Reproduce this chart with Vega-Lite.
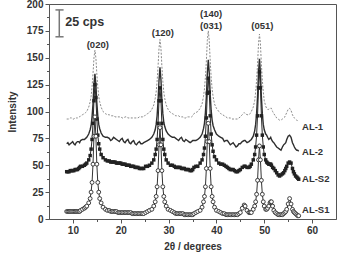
{
  "$schema": "https://vega.github.io/schema/vega-lite/v6.json",
  "width": 287,
  "height": 215,
  "autosize": {"type": "none"},
  "padding": {"left": 49, "top": 4, "right": 1, "bottom": 34},
  "config": {
    "view": {"stroke": "#555", "strokeWidth": 1},
    "font": "Liberation Sans",
    "axis": {
      "grid": false,
      "domainColor": "#555",
      "tickColor": "#555",
      "labelFont": "Liberation Sans",
      "labelFontWeight": "bold",
      "labelFontSize": 10,
      "labelColor": "#333",
      "titleFont": "Liberation Sans",
      "titleFontWeight": "bold",
      "titleFontSize": 10,
      "titleColor": "#333"
    }
  },
  "encoding": {
    "x": {
      "field": "x",
      "type": "quantitative",
      "scale": {"domain": [5, 65], "nice": false},
      "axis": {
        "title": "2θ / degrees",
        "values": [10, 15, 20, 25, 30, 35, 40, 45, 50, 55, 60],
        "labelExpr": "datum.value % 10 === 0 ? datum.label : ''",
        "tickSize": {"condition": {"test": "datum.value % 10 === 0", "value": 4}, "value": 2.5},
        "labelPadding": 2,
        "titlePadding": 6
      }
    },
    "y": {
      "field": "y",
      "type": "quantitative",
      "scale": {"domain": [0, 200], "nice": false},
      "axis": {
        "title": "Intensity",
        "values": [0, 12.5, 25, 37.5, 50, 62.5, 75, 87.5, 100, 112.5, 125, 137.5, 150, 162.5, 175, 187.5, 200],
        "labelExpr": "datum.value % 25 === 0 ? datum.label : ''",
        "tickSize": {"condition": {"test": "datum.value % 25 === 0", "value": 4}, "value": 2.5},
        "labelPadding": 2,
        "titlePadding": 9
      }
    }
  },
  "layer": [
    {
      "data": {
        "values": [
          {"x": 8.7, "AL-1": 93, "AL-2": 70, "AL-S2": 44, "AL-S1": 7},
          {"x": 8.95, "AL-1": 93, "AL-2": 71, "AL-S2": 44, "AL-S1": 7},
          {"x": 9.2, "AL-1": 93, "AL-2": 69, "AL-S2": 44, "AL-S1": 7},
          {"x": 9.45, "AL-1": 94, "AL-2": 70, "AL-S2": 45, "AL-S1": 7},
          {"x": 9.7, "AL-1": 94, "AL-2": 71, "AL-S2": 45, "AL-S1": 7},
          {"x": 9.95, "AL-1": 93, "AL-2": 72, "AL-S2": 45, "AL-S1": 7},
          {"x": 10.2, "AL-1": 93, "AL-2": 70, "AL-S2": 45, "AL-S1": 7},
          {"x": 10.45, "AL-1": 94, "AL-2": 69, "AL-S2": 46, "AL-S1": 7},
          {"x": 10.7, "AL-1": 94, "AL-2": 71, "AL-S2": 46, "AL-S1": 7},
          {"x": 10.95, "AL-1": 94, "AL-2": 72, "AL-S2": 46, "AL-S1": 7},
          {"x": 11.2, "AL-1": 95, "AL-2": 72, "AL-S2": 47, "AL-S1": 7},
          {"x": 11.4, "AL-1": 95, "AL-2": 71, "AL-S2": 48, "AL-S1": 7},
          {"x": 11.6, "AL-1": 96, "AL-2": 73, "AL-S2": 49, "AL-S1": 8},
          {"x": 12.0, "AL-1": 97, "AL-2": 74, "AL-S2": 49, "AL-S1": 9},
          {"x": 12.4, "AL-1": 98, "AL-2": 74, "AL-S2": 50, "AL-S1": 10},
          {"x": 12.65, "AL-1": 99, "AL-2": 75, "AL-S2": 51, "AL-S1": 11},
          {"x": 12.9, "AL-1": 100, "AL-2": 76, "AL-S2": 52, "AL-S1": 12},
          {"x": 13.3, "AL-1": 104, "AL-2": 79, "AL-S2": 55, "AL-S1": 15},
          {"x": 13.6, "AL-1": 109, "AL-2": 83, "AL-S2": 59, "AL-S1": 19},
          {"x": 13.8, "AL-1": 114, "AL-2": 87, "AL-S2": 65, "AL-S1": 25},
          {"x": 14.0, "AL-1": 123, "AL-2": 95, "AL-S2": 74, "AL-S1": 34},
          {"x": 14.2, "AL-1": 135, "AL-2": 107, "AL-S2": 89, "AL-S1": 51},
          {"x": 14.4, "AL-1": 150, "AL-2": 125, "AL-S2": 110, "AL-S1": 77},
          {"x": 14.6, "AL-1": 157, "AL-2": 135, "AL-S2": 125, "AL-S1": 95},
          {"x": 14.8, "AL-1": 150, "AL-2": 125, "AL-S2": 113, "AL-S1": 77},
          {"x": 15.0, "AL-1": 135, "AL-2": 108, "AL-S2": 93, "AL-S1": 51},
          {"x": 15.2, "AL-1": 123, "AL-2": 96, "AL-S2": 78, "AL-S1": 34},
          {"x": 15.4, "AL-1": 114, "AL-2": 88, "AL-S2": 70, "AL-S1": 25},
          {"x": 15.6, "AL-1": 109, "AL-2": 84, "AL-S2": 65, "AL-S1": 19},
          {"x": 15.9, "AL-1": 104, "AL-2": 80, "AL-S2": 60, "AL-S1": 15},
          {"x": 16.3, "AL-1": 100, "AL-2": 77, "AL-S2": 57, "AL-S1": 11},
          {"x": 16.8, "AL-1": 98, "AL-2": 76, "AL-S2": 55, "AL-S1": 9},
          {"x": 17.2, "AL-1": 97, "AL-2": 76, "AL-S2": 54, "AL-S1": 8},
          {"x": 17.6, "AL-1": 97, "AL-2": 75, "AL-S2": 54, "AL-S1": 8},
          {"x": 17.9, "AL-1": 96, "AL-2": 73, "AL-S2": 53, "AL-S1": 7},
          {"x": 18.2, "AL-1": 96, "AL-2": 74, "AL-S2": 53, "AL-S1": 7},
          {"x": 18.5, "AL-1": 96, "AL-2": 76, "AL-S2": 53, "AL-S1": 7},
          {"x": 18.8, "AL-1": 95, "AL-2": 75, "AL-S2": 53, "AL-S1": 7},
          {"x": 19.1, "AL-1": 95, "AL-2": 74, "AL-S2": 52, "AL-S1": 7},
          {"x": 19.4, "AL-1": 95, "AL-2": 73, "AL-S2": 52, "AL-S1": 6},
          {"x": 19.7, "AL-1": 95, "AL-2": 72, "AL-S2": 52, "AL-S1": 6},
          {"x": 20.0, "AL-1": 95, "AL-2": 74, "AL-S2": 52, "AL-S1": 6},
          {"x": 20.3, "AL-1": 94, "AL-2": 75, "AL-S2": 51, "AL-S1": 6},
          {"x": 20.6, "AL-1": 94, "AL-2": 72, "AL-S2": 51, "AL-S1": 6},
          {"x": 20.9, "AL-1": 95, "AL-2": 71, "AL-S2": 51, "AL-S1": 6},
          {"x": 21.2, "AL-1": 95, "AL-2": 73, "AL-S2": 50, "AL-S1": 6},
          {"x": 21.5, "AL-1": 94, "AL-2": 74, "AL-S2": 50, "AL-S1": 6},
          {"x": 21.8, "AL-1": 94, "AL-2": 71, "AL-S2": 50, "AL-S1": 6},
          {"x": 22.1, "AL-1": 94, "AL-2": 70, "AL-S2": 49, "AL-S1": 6},
          {"x": 22.4, "AL-1": 94, "AL-2": 72, "AL-S2": 49, "AL-S1": 5},
          {"x": 22.7, "AL-1": 94, "AL-2": 73, "AL-S2": 49, "AL-S1": 5},
          {"x": 23.0, "AL-1": 94, "AL-2": 70, "AL-S2": 48, "AL-S1": 5},
          {"x": 23.3, "AL-1": 94, "AL-2": 69, "AL-S2": 48, "AL-S1": 5},
          {"x": 23.6, "AL-1": 94, "AL-2": 71, "AL-S2": 48, "AL-S1": 5},
          {"x": 23.9, "AL-1": 95, "AL-2": 72, "AL-S2": 47, "AL-S1": 5},
          {"x": 24.2, "AL-1": 95, "AL-2": 70, "AL-S2": 47, "AL-S1": 5},
          {"x": 24.5, "AL-1": 95, "AL-2": 70, "AL-S2": 47, "AL-S1": 5},
          {"x": 24.8, "AL-1": 95, "AL-2": 71, "AL-S2": 47, "AL-S1": 5},
          {"x": 25.2, "AL-1": 97, "AL-2": 72, "AL-S2": 49, "AL-S1": 6},
          {"x": 25.6, "AL-1": 98, "AL-2": 73, "AL-S2": 49, "AL-S1": 7},
          {"x": 26.0, "AL-1": 99, "AL-2": 74, "AL-S2": 50, "AL-S1": 8},
          {"x": 26.5, "AL-1": 102, "AL-2": 76, "AL-S2": 52, "AL-S1": 9},
          {"x": 26.9, "AL-1": 106, "AL-2": 79, "AL-S2": 55, "AL-S1": 12},
          {"x": 27.2, "AL-1": 112, "AL-2": 83, "AL-S2": 60, "AL-S1": 16},
          {"x": 27.4, "AL-1": 118, "AL-2": 88, "AL-S2": 65, "AL-S1": 21},
          {"x": 27.6, "AL-1": 128, "AL-2": 96, "AL-S2": 74, "AL-S1": 30},
          {"x": 27.8, "AL-1": 142, "AL-2": 110, "AL-S2": 89, "AL-S1": 45},
          {"x": 28.0, "AL-1": 159, "AL-2": 129, "AL-S2": 110, "AL-S1": 69},
          {"x": 28.2, "AL-1": 167, "AL-2": 141, "AL-S2": 122, "AL-S1": 85},
          {"x": 28.4, "AL-1": 159, "AL-2": 130, "AL-S2": 110, "AL-S1": 69},
          {"x": 28.6, "AL-1": 142, "AL-2": 111, "AL-S2": 89, "AL-S1": 45},
          {"x": 28.8, "AL-1": 128, "AL-2": 98, "AL-S2": 74, "AL-S1": 30},
          {"x": 29.0, "AL-1": 118, "AL-2": 90, "AL-S2": 65, "AL-S1": 21},
          {"x": 29.2, "AL-1": 112, "AL-2": 86, "AL-S2": 60, "AL-S1": 16},
          {"x": 29.5, "AL-1": 106, "AL-2": 82, "AL-S2": 55, "AL-S1": 12},
          {"x": 29.9, "AL-1": 102, "AL-2": 79, "AL-S2": 52, "AL-S1": 9},
          {"x": 30.4, "AL-1": 99, "AL-2": 77, "AL-S2": 50, "AL-S1": 8},
          {"x": 30.8, "AL-1": 98, "AL-2": 76, "AL-S2": 50, "AL-S1": 7},
          {"x": 31.2, "AL-1": 97, "AL-2": 76, "AL-S2": 49, "AL-S1": 6},
          {"x": 31.5, "AL-1": 96, "AL-2": 75, "AL-S2": 48, "AL-S1": 5},
          {"x": 31.8, "AL-1": 96, "AL-2": 74, "AL-S2": 48, "AL-S1": 5},
          {"x": 32.1, "AL-1": 96, "AL-2": 73, "AL-S2": 48, "AL-S1": 5},
          {"x": 32.4, "AL-1": 95, "AL-2": 75, "AL-S2": 48, "AL-S1": 5},
          {"x": 32.7, "AL-1": 95, "AL-2": 76, "AL-S2": 47, "AL-S1": 5},
          {"x": 33.0, "AL-1": 95, "AL-2": 73, "AL-S2": 47, "AL-S1": 5},
          {"x": 33.3, "AL-1": 94, "AL-2": 72, "AL-S2": 47, "AL-S1": 4},
          {"x": 33.6, "AL-1": 94, "AL-2": 74, "AL-S2": 46, "AL-S1": 4},
          {"x": 33.9, "AL-1": 95, "AL-2": 73, "AL-S2": 46, "AL-S1": 4},
          {"x": 34.2, "AL-1": 95, "AL-2": 72, "AL-S2": 46, "AL-S1": 4},
          {"x": 34.5, "AL-1": 95, "AL-2": 71, "AL-S2": 45, "AL-S1": 4},
          {"x": 34.8, "AL-1": 95, "AL-2": 72, "AL-S2": 45, "AL-S1": 4},
          {"x": 35.05, "AL-1": 96, "AL-2": 73, "AL-S2": 46, "AL-S1": 4},
          {"x": 35.3, "AL-1": 98, "AL-2": 73, "AL-S2": 48, "AL-S1": 5},
          {"x": 35.7, "AL-1": 99, "AL-2": 73, "AL-S2": 49, "AL-S1": 6},
          {"x": 36.1, "AL-1": 100, "AL-2": 74, "AL-S2": 49, "AL-S1": 7},
          {"x": 36.6, "AL-1": 103, "AL-2": 76, "AL-S2": 52, "AL-S1": 8},
          {"x": 37.0, "AL-1": 107, "AL-2": 79, "AL-S2": 55, "AL-S1": 11},
          {"x": 37.3, "AL-1": 114, "AL-2": 84, "AL-S2": 60, "AL-S1": 16},
          {"x": 37.5, "AL-1": 121, "AL-2": 89, "AL-S2": 66, "AL-S1": 21},
          {"x": 37.7, "AL-1": 132, "AL-2": 99, "AL-S2": 77, "AL-S1": 30},
          {"x": 37.9, "AL-1": 147, "AL-2": 114, "AL-S2": 94, "AL-S1": 47},
          {"x": 38.1, "AL-1": 166, "AL-2": 135, "AL-S2": 117, "AL-S1": 72},
          {"x": 38.3, "AL-1": 175, "AL-2": 148, "AL-S2": 131, "AL-S1": 89},
          {"x": 38.5, "AL-1": 166, "AL-2": 136, "AL-S2": 118, "AL-S1": 72},
          {"x": 38.7, "AL-1": 147, "AL-2": 116, "AL-S2": 96, "AL-S1": 47},
          {"x": 38.9, "AL-1": 132, "AL-2": 101, "AL-S2": 79, "AL-S1": 30},
          {"x": 39.1, "AL-1": 121, "AL-2": 92, "AL-S2": 69, "AL-S1": 21},
          {"x": 39.3, "AL-1": 114, "AL-2": 87, "AL-S2": 63, "AL-S1": 16},
          {"x": 39.6, "AL-1": 107, "AL-2": 83, "AL-S2": 58, "AL-S1": 11},
          {"x": 40.0, "AL-1": 103, "AL-2": 79, "AL-S2": 55, "AL-S1": 8},
          {"x": 40.5, "AL-1": 100, "AL-2": 77, "AL-S2": 52, "AL-S1": 7},
          {"x": 40.9, "AL-1": 98, "AL-2": 76, "AL-S2": 51, "AL-S1": 6},
          {"x": 41.3, "AL-1": 97, "AL-2": 75, "AL-S2": 51, "AL-S1": 5},
          {"x": 41.65, "AL-1": 96, "AL-2": 72, "AL-S2": 50, "AL-S1": 5},
          {"x": 42.0, "AL-1": 95, "AL-2": 73, "AL-S2": 49, "AL-S1": 4},
          {"x": 42.3, "AL-1": 94, "AL-2": 73, "AL-S2": 48, "AL-S1": 4},
          {"x": 42.6, "AL-1": 94, "AL-2": 71, "AL-S2": 47, "AL-S1": 4},
          {"x": 42.9, "AL-1": 94, "AL-2": 69, "AL-S2": 46, "AL-S1": 4},
          {"x": 43.2, "AL-1": 93, "AL-2": 70, "AL-S2": 46, "AL-S1": 4},
          {"x": 43.5, "AL-1": 93, "AL-2": 71, "AL-S2": 46, "AL-S1": 4},
          {"x": 43.8, "AL-1": 93, "AL-2": 69, "AL-S2": 45, "AL-S1": 4},
          {"x": 44.1, "AL-1": 93, "AL-2": 67, "AL-S2": 44, "AL-S1": 4},
          {"x": 44.4, "AL-1": 93, "AL-2": 68, "AL-S2": 44, "AL-S1": 4},
          {"x": 44.7, "AL-1": 94, "AL-2": 70, "AL-S2": 45, "AL-S1": 5},
          {"x": 45.0, "AL-1": 95, "AL-2": 70, "AL-S2": 46, "AL-S1": 6},
          {"x": 45.4, "AL-1": 97, "AL-2": 72, "AL-S2": 48, "AL-S1": 10},
          {"x": 45.8, "AL-1": 99, "AL-2": 73, "AL-S2": 49, "AL-S1": 13},
          {"x": 46.0, "AL-1": 98, "AL-2": 73, "AL-S2": 49, "AL-S1": 12},
          {"x": 46.4, "AL-1": 97, "AL-2": 71, "AL-S2": 48, "AL-S1": 8},
          {"x": 46.8, "AL-1": 97, "AL-2": 72, "AL-S2": 48, "AL-S1": 6},
          {"x": 47.05, "AL-1": 98, "AL-2": 73, "AL-S2": 49, "AL-S1": 6},
          {"x": 47.3, "AL-1": 100, "AL-2": 74, "AL-S2": 51, "AL-S1": 6},
          {"x": 47.7, "AL-1": 104, "AL-2": 77, "AL-S2": 55, "AL-S1": 9},
          {"x": 48.0, "AL-1": 110, "AL-2": 82, "AL-S2": 60, "AL-S1": 12},
          {"x": 48.2, "AL-1": 118, "AL-2": 88, "AL-S2": 67, "AL-S1": 16},
          {"x": 48.4, "AL-1": 129, "AL-2": 98, "AL-S2": 78, "AL-S1": 23},
          {"x": 48.6, "AL-1": 144, "AL-2": 114, "AL-S2": 96, "AL-S1": 36},
          {"x": 48.8, "AL-1": 163, "AL-2": 136, "AL-S2": 122, "AL-S1": 55},
          {"x": 49.0, "AL-1": 172, "AL-2": 149, "AL-S2": 137, "AL-S1": 68},
          {"x": 49.2, "AL-1": 163, "AL-2": 136, "AL-S2": 122, "AL-S1": 55},
          {"x": 49.4, "AL-1": 144, "AL-2": 114, "AL-S2": 96, "AL-S1": 36},
          {"x": 49.6, "AL-1": 129, "AL-2": 98, "AL-S2": 78, "AL-S1": 23},
          {"x": 49.8, "AL-1": 118, "AL-2": 88, "AL-S2": 67, "AL-S1": 16},
          {"x": 50.0, "AL-1": 110, "AL-2": 83, "AL-S2": 60, "AL-S1": 12},
          {"x": 50.3, "AL-1": 105, "AL-2": 79, "AL-S2": 55, "AL-S1": 9},
          {"x": 50.5, "AL-1": 103, "AL-2": 78, "AL-S2": 53, "AL-S1": 9},
          {"x": 50.7, "AL-1": 102, "AL-2": 76, "AL-S2": 52, "AL-S1": 10},
          {"x": 50.95, "AL-1": 102, "AL-2": 74, "AL-S2": 51, "AL-S1": 12},
          {"x": 51.2, "AL-1": 103, "AL-2": 75, "AL-S2": 51, "AL-S1": 15},
          {"x": 51.35, "AL-1": 103, "AL-2": 76, "AL-S2": 51, "AL-S1": 16},
          {"x": 51.5, "AL-1": 103, "AL-2": 74, "AL-S2": 50, "AL-S1": 16},
          {"x": 51.75, "AL-1": 100, "AL-2": 72, "AL-S2": 48, "AL-S1": 12},
          {"x": 52.0, "AL-1": 98, "AL-2": 71, "AL-S2": 47, "AL-S1": 8},
          {"x": 52.3, "AL-1": 96, "AL-2": 69, "AL-S2": 45, "AL-S1": 6},
          {"x": 52.6, "AL-1": 94, "AL-2": 67, "AL-S2": 43, "AL-S1": 5},
          {"x": 52.9, "AL-1": 93, "AL-2": 66, "AL-S2": 41, "AL-S1": 4},
          {"x": 53.2, "AL-1": 92, "AL-2": 65, "AL-S2": 40, "AL-S1": 4},
          {"x": 53.5, "AL-1": 92, "AL-2": 64, "AL-S2": 41, "AL-S1": 4},
          {"x": 53.8, "AL-1": 93, "AL-2": 67, "AL-S2": 42, "AL-S1": 4},
          {"x": 54.05, "AL-1": 94, "AL-2": 69, "AL-S2": 43, "AL-S1": 5},
          {"x": 54.3, "AL-1": 95, "AL-2": 70, "AL-S2": 45, "AL-S1": 6},
          {"x": 54.5, "AL-1": 97, "AL-2": 71, "AL-S2": 47, "AL-S1": 7},
          {"x": 54.7, "AL-1": 99, "AL-2": 74, "AL-S2": 49, "AL-S1": 9},
          {"x": 55.0, "AL-1": 102, "AL-2": 77, "AL-S2": 52, "AL-S1": 14},
          {"x": 55.3, "AL-1": 103, "AL-2": 78, "AL-S2": 53, "AL-S1": 19},
          {"x": 55.6, "AL-1": 101, "AL-2": 76, "AL-S2": 52, "AL-S1": 14},
          {"x": 55.9, "AL-1": 97, "AL-2": 71, "AL-S2": 47, "AL-S1": 9},
          {"x": 56.1, "AL-1": 95, "AL-2": 69, "AL-S2": 44, "AL-S1": 7},
          {"x": 56.3, "AL-1": 94, "AL-2": 67, "AL-S2": 42, "AL-S1": 6},
          {"x": 56.55, "AL-1": 93, "AL-2": 65, "AL-S2": 40, "AL-S1": 5},
          {"x": 56.8, "AL-1": 92, "AL-2": 64, "AL-S2": 39, "AL-S1": 4},
          {"x": 57.0, "AL-1": 91, "AL-2": 64, "AL-S2": 38, "AL-S1": 3},
          {"x": 57.2, "AL-1": 91, "AL-2": 63, "AL-S2": 37, "AL-S1": 3}
        ]
      },
      "transform": [{"fold": ["AL-1", "AL-2", "AL-S2", "AL-S1"], "as": ["series", "y"]}],
      "layer": [
        {
          "transform": [{"filter": "datum.series === 'AL-1'"}],
          "mark": {"type": "line", "color": "#8a8a8a", "strokeWidth": 1, "strokeDash": [2, 1.5]}
        },
        {
          "transform": [{"filter": "datum.series === 'AL-2'"}],
          "mark": {"type": "line", "color": "#2e2e2e", "strokeWidth": 1.4}
        },
        {
          "transform": [{"filter": "datum.series === 'AL-S2'"}],
          "mark": {"type": "line", "color": "#2a2a2a", "strokeWidth": 1}
        },
        {
          "transform": [{"filter": "datum.series === 'AL-S2'"}],
          "mark": {"type": "point", "shape": "square", "filled": true, "color": "#222", "size": 12, "opacity": 1}
        },
        {
          "transform": [{"filter": "datum.series === 'AL-S1'"}],
          "mark": {"type": "line", "color": "#333", "strokeWidth": 1}
        },
        {
          "transform": [{"filter": "datum.series === 'AL-S1'"}],
          "mark": {"type": "point", "shape": "circle", "filled": true, "fill": "#fff", "stroke": "#2a2a2a", "strokeWidth": 0.9, "size": 15, "opacity": 1}
        }
      ]
    },
    {
      "data": {
        "values": [
          {"x": 15.2, "y": 162, "label": "(020)"},
          {"x": 28.8, "y": 173, "label": "(120)"},
          {"x": 38.9, "y": 191, "label": "(140)"},
          {"x": 38.9, "y": 179.5, "label": "(031)"},
          {"x": 49.6, "y": 179.5, "label": "(051)"}
        ]
      },
      "mark": {"type": "text", "align": "center", "baseline": "middle", "font": "Liberation Sans", "fontWeight": "bold", "fontSize": 9.5, "color": "#333"},
      "encoding": {"text": {"field": "label"}}
    },
    {
      "data": {
        "values": [
          {"x": 57.9, "y": 86, "label": "AL-1"},
          {"x": 57.9, "y": 62.5, "label": "AL-2"},
          {"x": 57.9, "y": 37, "label": "AL-S2"},
          {"x": 57.9, "y": 8.5, "label": "AL-S1"}
        ]
      },
      "mark": {"type": "text", "align": "left", "baseline": "middle", "font": "Liberation Sans", "fontWeight": "bold", "fontSize": 9.5, "color": "#333"},
      "encoding": {"text": {"field": "label"}}
    },
    {
      "data": {"values": [{"x": 7.15, "y": 169.5, "y2": 194.5}]},
      "mark": {"type": "rule", "color": "#777", "strokeWidth": 1.5},
      "encoding": {"y2": {"field": "y2"}}
    },
    {
      "data": {"values": [{"x": 6.35, "x2": 8.05, "y": 169.5}, {"x": 6.35, "x2": 8.05, "y": 194.5}]},
      "mark": {"type": "rule", "color": "#777", "strokeWidth": 1.5},
      "encoding": {"x2": {"field": "x2"}}
    },
    {
      "data": {"values": [{"x": 8.4, "y": 183, "label": "25 cps"}]},
      "mark": {"type": "text", "align": "left", "baseline": "middle", "font": "Liberation Sans", "fontWeight": "bold", "fontSize": 12.5, "color": "#333"},
      "encoding": {"text": {"field": "label"}}
    }
  ]
}
